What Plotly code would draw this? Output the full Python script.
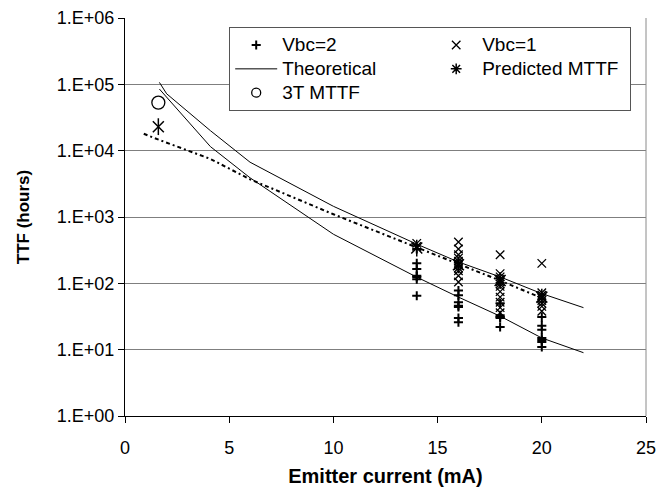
import plotly.graph_objects as go

# ---- data ----
vbc2_x = [14]*7 + [16]*7 + [18]*5 + [20]*7
vbc2_y = [330, 200, 165, 130, 125, 115, 65,
          78, 66, 52, 46, 44, 30, 26,
          50, 33, 31, 30, 22,
          31, 23, 20, 15, 14, 13, 11]

vbc1_x = [14]*2 + [16]*11 + [18]*12 + [20]*8
vbc1_y = [400, 360,
          420, 330, 270, 240, 215, 200, 185, 170, 155, 130, 105,
          270, 140, 125, 115, 105, 98, 90, 75, 62, 52, 43, 36,
          200, 72, 66, 60, 55, 50, 45, 38]

theory_x = [1.65, 2.0, 4.1, 6.0, 10.0, 14.0, 16.0, 18.0, 20.0, 22.0]
theory_upper = [1.07e5, 7.2e4, 2.0e4, 6.7e3, 1.45e3, 390, 210, 125, 70, 43]
theory_lower = [8.5e4, 6.4e4, 1.15e4, 3.9e3, 550, 124, 62, 32, 15, 9]

trend_x = [0.9, 1.4, 4.1, 6.0, 10.0, 14.0, 16.0, 18.0, 20.0]
trend_y = [1.8e4, 1.55e4, 7.5e3, 3.7e3, 1.1e3, 350, 200, 110, 60]

pred_x = [1.6, 14, 16, 18, 20]
pred_y = [2.3e4, 340, 190, 110, 62]

mttf3t_x = [1.6]
mttf3t_y = [5.3e4]

ytick_vals = [1, 10, 100, 1e3, 1e4, 1e5, 1e6]
ytick_text = ["1.E+00", "1.E+01", "1.E+02", "1.E+03", "1.E+04", "1.E+05", "1.E+06"]
xtick_vals = [0, 5, 10, 15, 20, 25]

FONT = "Liberation Sans, Arial, sans-serif"


def big(s):
    return '<span style="font-size:19px">' + s + '</span>'


fig = go.Figure()

# lines first (drawn under markers)
fig.add_trace(go.Scatter(x=theory_x, y=theory_lower, mode="lines",
                         line=dict(color="black", width=1), showlegend=False, hoverinfo="skip"))
fig.add_trace(go.Scatter(x=trend_x, y=trend_y, mode="lines",
                         line=dict(color="black", width=2, dash="4px,3px,2px,3px"),
                         showlegend=False, hoverinfo="skip"))

# legend order: Vbc=2, Vbc=1, Theoretical, Predicted MTTF, 3T MTTF
fig.add_trace(go.Scatter(x=vbc2_x, y=vbc2_y, mode="markers", name=big("Vbc=2"),
                         marker=dict(symbol="cross-thin", size=6.5, color="black",
                                     line=dict(color="black", width=2))))
fig.add_trace(go.Scatter(x=vbc1_x, y=vbc1_y, mode="markers", name=big("Vbc=1"),
                         marker=dict(symbol="x-thin", size=8.5, color="black",
                                     line=dict(color="black", width=1.3))))
fig.add_trace(go.Scatter(x=theory_x, y=theory_upper, mode="lines", name=big("Theoretical"),
                         line=dict(color="black", width=1)))
fig.add_trace(go.Scatter(x=[None], y=[None], mode="markers", name=big("Predicted MTTF"),
                         marker=dict(symbol="asterisk-open", size=9, color="black",
                                     line=dict(color="black", width=1.5))))
fig.add_trace(go.Scatter(x=[None], y=[None], mode="markers", name=big("3T MTTF"),
                         marker=dict(symbol="circle-open", size=9, color="black",
                                     line=dict(color="black", width=1.3))))
fig.add_trace(go.Scatter(x=mttf3t_x, y=mttf3t_y, mode="markers", showlegend=False,
                         marker=dict(symbol="circle-open", size=13, color="black",
                                     line=dict(color="black", width=1.3))))
fig.add_trace(go.Scatter(x=pred_x, y=pred_y, mode="markers", showlegend=False,
                         marker=dict(symbol="x-thin", size=11, color="black",
                                     line=dict(color="black", width=1.5))))
fig.add_trace(go.Scatter(x=pred_x, y=pred_y, mode="markers", showlegend=False,
                         marker=dict(symbol="line-ns", size=12, color="black",
                                     line=dict(color="black", width=1.5))))

fig.update_layout(
    width=661, height=479,
    margin=dict(l=117, r=23, t=9.5, b=71.3, autoexpand=False),
    paper_bgcolor="white", plot_bgcolor="white",
    font=dict(family=FONT, size=18, color="black"),
    legend=dict(orientation="h", x=0.2, y=0.977, xanchor="left", yanchor="top",
                bordercolor="#555555", borderwidth=1, bgcolor="white",
                font=dict(family=FONT, size=16, color="black"),
                entrywidth=143, entrywidthmode="pixels", itemwidth=42,
                traceorder="normal"),
    xaxis=dict(range=[0, 25], tickvals=xtick_vals, ticks="outside", ticklen=6,
               ticklabelstandoff=9,
               tickcolor="black", showline=True, linecolor="black", linewidth=1,
               showgrid=False, zeroline=False, mirror=False, automargin=False,
               title=dict(text="<b>Emitter current (mA)</b>", font=dict(size=20), standoff=12)),
    yaxis=dict(type="log", range=[0, 6], tickvals=ytick_vals, ticktext=ytick_text,
               ticks="outside", ticklen=6, tickcolor="black",
               showline=True, linecolor="black", linewidth=1, automargin=False,
               showgrid=True, gridcolor="#7f7f7f", gridwidth=1, zeroline=False,
               title=dict(text="<b>TTF (hours)</b>", font=dict(size=17), standoff=22)),
    shapes=[dict(type="line", xref="paper", yref="paper", x0=1, x1=1, y0=0, y1=1,
                 line=dict(color="#8a8a8a", width=1))],
)

fig.write_html("out.html")
